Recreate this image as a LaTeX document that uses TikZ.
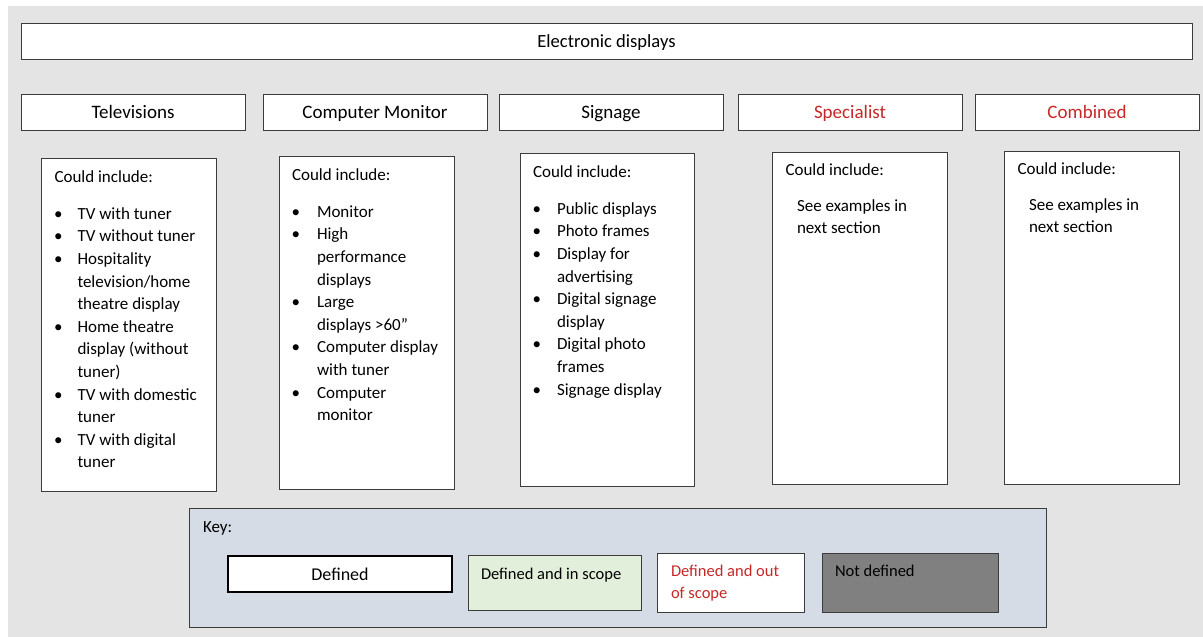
\documentclass[tikz,border=0pt]{standalone}
\usepackage{fontspec}
\setmainfont{Carlito}
\definecolor{pagegray}{HTML}{E4E4E4}
\definecolor{keyfill}{HTML}{D6DCE5}
\definecolor{scopegreen}{HTML}{E2EFDA}
\definecolor{nodefgray}{HTML}{808080}
\definecolor{outred}{HTML}{C62828}
\definecolor{edge}{HTML}{3C3C3C}

\tikzset{
  box/.style={draw=edge, line width=1pt, fill=white, inner sep=0pt, outer sep=0pt},
  hdr/.style={box, minimum width=224pt, minimum height=36pt, text height=13pt, text depth=0pt,
    font=\fontsize{19}{23}\selectfont},
  content/.style={box, minimum width=175pt, minimum height=333pt},
  txt/.style={anchor=base west, inner sep=0pt, outer sep=0pt, font=\fontsize{17}{22.6}\selectfont},
}

% one line per entry: 1 = bulleted line, 0 = continuation line
\newcommand{\listlines}[5]{%
  \foreach \b/\t [count=\i from 0] in {#5} {
    \node[txt] (#1-\i) at (#3, #4+22.6*\i) {\t};
    \ifnum\b=1 \node[txt] (#1-b\i) at (#2, #4+22.6*\i) {\textbullet}; \fi
  }%
}

\begin{document}
\begin{tikzpicture}[x=1pt, y=-1pt]
\useasboundingbox (0,0) rectangle (1203,637);
\fill[white] (0,0) rectangle (1203,637);
\fill[pagegray] (8,6) rectangle (1203,637);

% top level
\node[box, minimum width=1171pt, minimum height=36pt, text height=12.6pt, text depth=0pt,
  font=\fontsize{18.6}{23}\selectfont] (top) at (606.5,41) {Electronic displays};

% categories
\node[hdr] (tvh)   at (133,112) {Televisions};
\node[hdr] (cmh)   at (375,112) {Computer Monitor};
\node[hdr] (sgh)   at (611,112) {Signage};
\node[hdr, text=outred] (sph) at (850,112) {Specialist};
\node[hdr, text=outred] (cbh) at (1087,112) {Combined};

% content boxes
\node[content] (tvc) at (128.5,324.5) {};
\node[content] (cmc) at (366.5,322.5) {};
\node[content, minimum width=174pt] (sgc) at (607,319.5) {};
\node[content, minimum height=332pt] (spc) at (859.5,318) {};
\node[content] (cbc) at (1091.5,317.5) {};

% televisions
\node[txt] (tvci) at (54.5,182.3) {Could include:};
\listlines{tv}{54}{77.5}{219.3}{1/TV with tuner, 1/TV without tuner, 1/Hospitality,
  0/{television/home}, 0/theatre display, 1/Home theatre, 0/display (without, 0/tuner),
  1/TV with domestic, 0/tuner, 1/TV with digital, 0/tuner}

% computer monitors
\node[txt] (cmci) at (292,180.3) {Could include:};
\listlines{cm}{291.5}{317}{217.3}{1/Monitor, 1/High, 0/performance, 0/displays, 1/Large,
  0/displays >60”, 1/Computer display, 0/with tuner, 1/Computer, 0/monitor}

% signage
\node[txt] (sgci) at (533,177.3) {Could include:};
\listlines{sg}{532.5}{557}{214.3}{1/Public displays, 1/Photo frames, 1/Display for,
  0/advertising, 1/Digital signage, 0/display, 1/Digital photo, 0/frames, 1/Signage display}

% specialist
\node[txt] (spci) at (785.5,175.3) {Could include:};
\node[txt] (spse) at (797,211.5) {See examples in};
\node[txt] (spns) at (797,233.5) {next section};

% combined
\node[txt] (cbci) at (1017.5,174.3) {Could include:};
\node[txt] (cbse) at (1029,210.5) {See examples in};
\node[txt] (cbns) at (1029,232.5) {next section};

% key
\node[box, fill=keyfill, minimum width=857pt, minimum height=119pt] (key) at (617.5,567.5) {};
\node[txt] (keyt) at (203,532.5) {Key:};
\node[box, draw=black, line width=2pt, minimum width=224pt, minimum height=36pt,
  text height=12pt, text depth=0pt, font=\fontsize{18}{22}\selectfont] (kdef) at (340,574) {Defined};
\node[box, fill=scopegreen, minimum width=173pt, minimum height=55pt] (kin) at (554.5,582.5) {};
\node[txt, font=\fontsize{16.5}{22}\selectfont] (kint) at (481,579) {Defined and in scope};
\node[box, minimum width=147pt, minimum height=59pt] (kout) at (730.5,582.5) {};
\node[txt, text=outred, font=\fontsize{16.5}{22}\selectfont] (kout1) at (671,576.5) {Defined and out};
\node[txt, text=outred, font=\fontsize{16.5}{22}\selectfont] (kout2) at (671,598.5) {of scope};
\node[box, fill=nodefgray, minimum width=176pt, minimum height=59pt] (knd) at (910,582.5) {};
\node[txt, font=\fontsize{16.5}{22}\selectfont] (kndt) at (835,576.5) {Not defined};
\end{tikzpicture}
\end{document}
